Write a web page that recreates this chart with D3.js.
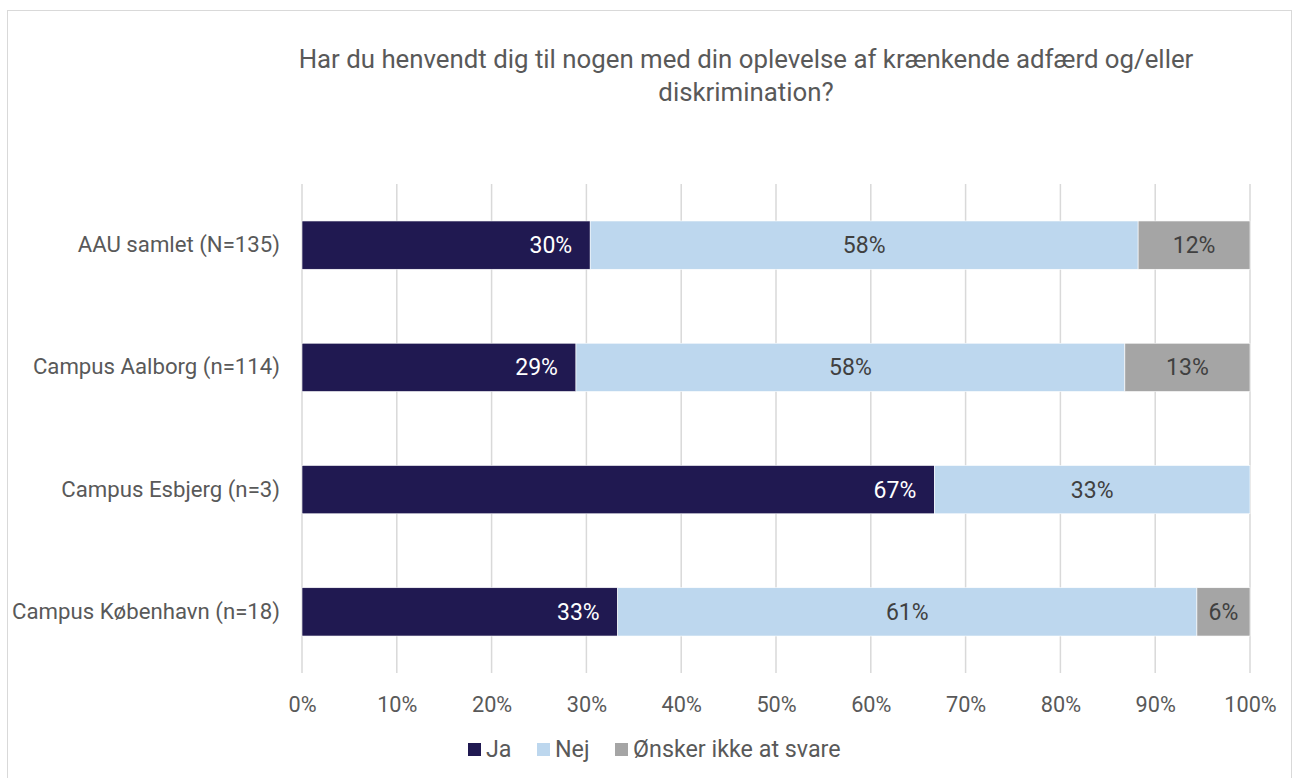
<!DOCTYPE html>
<html><head><meta charset="utf-8">
<script src="https://cdn.jsdelivr.net/npm/d3@7"></script>
<style>
html,body{margin:0;padding:0;background:#fff;}
svg{display:block;font-family:Roboto, "Open Sans", sans-serif;}
</style></head>
<body>
<svg id="c" width="1293" height="778"></svg>
<script>
const categories = ["AAU samlet (N=135)", "Campus Aalborg (n=114)", "Campus Esbjerg (n=3)", "Campus København (n=18)"];
const seriesNames = ["Ja", "Nej", "Ønsker ikke at svare"];
const ja  = [30.4, 28.9, 66.7, 33.3];
const nej = [57.8, 57.9, 33.3, 61.1];
const oensker = [11.8, 13.2, 0, 5.6];
const colors = ["#201951", "#BDD7EE", "#A5A5A5"];
const labelColors = ["#ffffff", "#404040", "#404040"];
const tickValues = [0,10,20,30,40,50,60,70,80,90,100];
const titleLines = ["Har du henvendt dig til nogen med din oplevelse af krænkende adfærd og/eller", "diskrimination?"];

const svg = d3.select("#c");
const textColor = "#595959";

// outer border
svg.append("rect").attr("x", 7.5).attr("y", 10.5).attr("width", 1284).attr("height", 780)
  .attr("fill", "none").attr("stroke", "#d9d9d9").attr("stroke-width", 1);

const m = {left: 302, right: 1250, top: 184, bottom: 673};
const x = d3.scaleLinear().domain([0, 100]).range([m.left, m.right]);
const y = d3.scaleBand().domain(categories).range([m.top, m.bottom]).paddingInner(0.605).paddingOuter(0.3025);

// title
svg.append("g").selectAll("text").data(titleLines).join("text")
  .attr("x", 746).attr("y", (d,i) => 68 + i*33)
  .attr("text-anchor", "middle").attr("fill", textColor)
  .style("font-size", "25.8px").text(d => d);

// gridlines
svg.append("g").selectAll("line").data(tickValues).join("line")
  .attr("x1", d => x(d)).attr("x2", d => x(d))
  .attr("y1", m.top).attr("y2", m.bottom)
  .attr("stroke", "#d9d9d9").attr("stroke-width", 1.5);

// x axis
const xAxis = d3.axisBottom(x).tickValues(tickValues).tickFormat(d => d + "%").tickSize(0).tickPadding(0);
const gx = svg.append("g").attr("transform", `translate(0, ${m.bottom + 39})`).call(xAxis);
gx.select(".domain").remove();
gx.selectAll("text").attr("fill", textColor).style("font-size", "21.7px")
  .style("font-family", "Roboto, sans-serif").attr("dy", "0");

// y axis
const yAxis = d3.axisLeft(y).tickSize(0).tickPadding(22);
const gy = svg.append("g").attr("transform", `translate(${m.left}, 0)`).call(yAxis);
gy.select(".domain").remove();
gy.selectAll("text").attr("fill", textColor).style("font-size", "22.2px")
  .style("font-family", "Roboto, sans-serif");

// stacked data
const rows = categories.map((c, i) => ({cat: c, "Ja": ja[i], "Nej": nej[i], "Ønsker ikke at svare": oensker[i]}));
const stack = d3.stack().keys(seriesNames)(rows);

const gBars = svg.append("g");
stack.forEach((layer, si) => {
  const g = gBars.append("g");
  g.selectAll("rect").data(layer.filter(d => d[1] - d[0] > 0)).join("rect")
    .attr("x", d => x(d[0])).attr("y", d => y(d.data.cat))
    .attr("width", d => x(d[1]) - x(d[0])).attr("height", y.bandwidth())
    .attr("fill", colors[si]).attr("stroke", "#ffffff").attr("stroke-width", 0.6);
  g.selectAll("text").data(layer.filter(d => d[1] - d[0] > 0)).join("text")
    .attr("x", d => si === 0 ? x(d[1]) - 18 : (x(d[0]) + x(d[1])) / 2)
    .attr("y", d => y(d.data.cat) + y.bandwidth() / 2)
    .attr("dy", "0.35em")
    .attr("text-anchor", si === 0 ? "end" : "middle")
    .attr("fill", labelColors[si]).style("font-size", "23px")
    .text(d => Math.round(d[1] - d[0]) + "%");
});

// legend
const legendX = [468, 537, 615];
const lg = svg.append("g");
seriesNames.forEach((s, i) => {
  lg.append("rect").attr("x", legendX[i]).attr("y", 743).attr("width", 13).attr("height", 13).attr("fill", colors[i]);
  lg.append("text").attr("x", legendX[i] + 18).attr("y", 757)
    .attr("fill", textColor).style("font-size", "23.3px").text(s);
});
</script>
</body></html>
